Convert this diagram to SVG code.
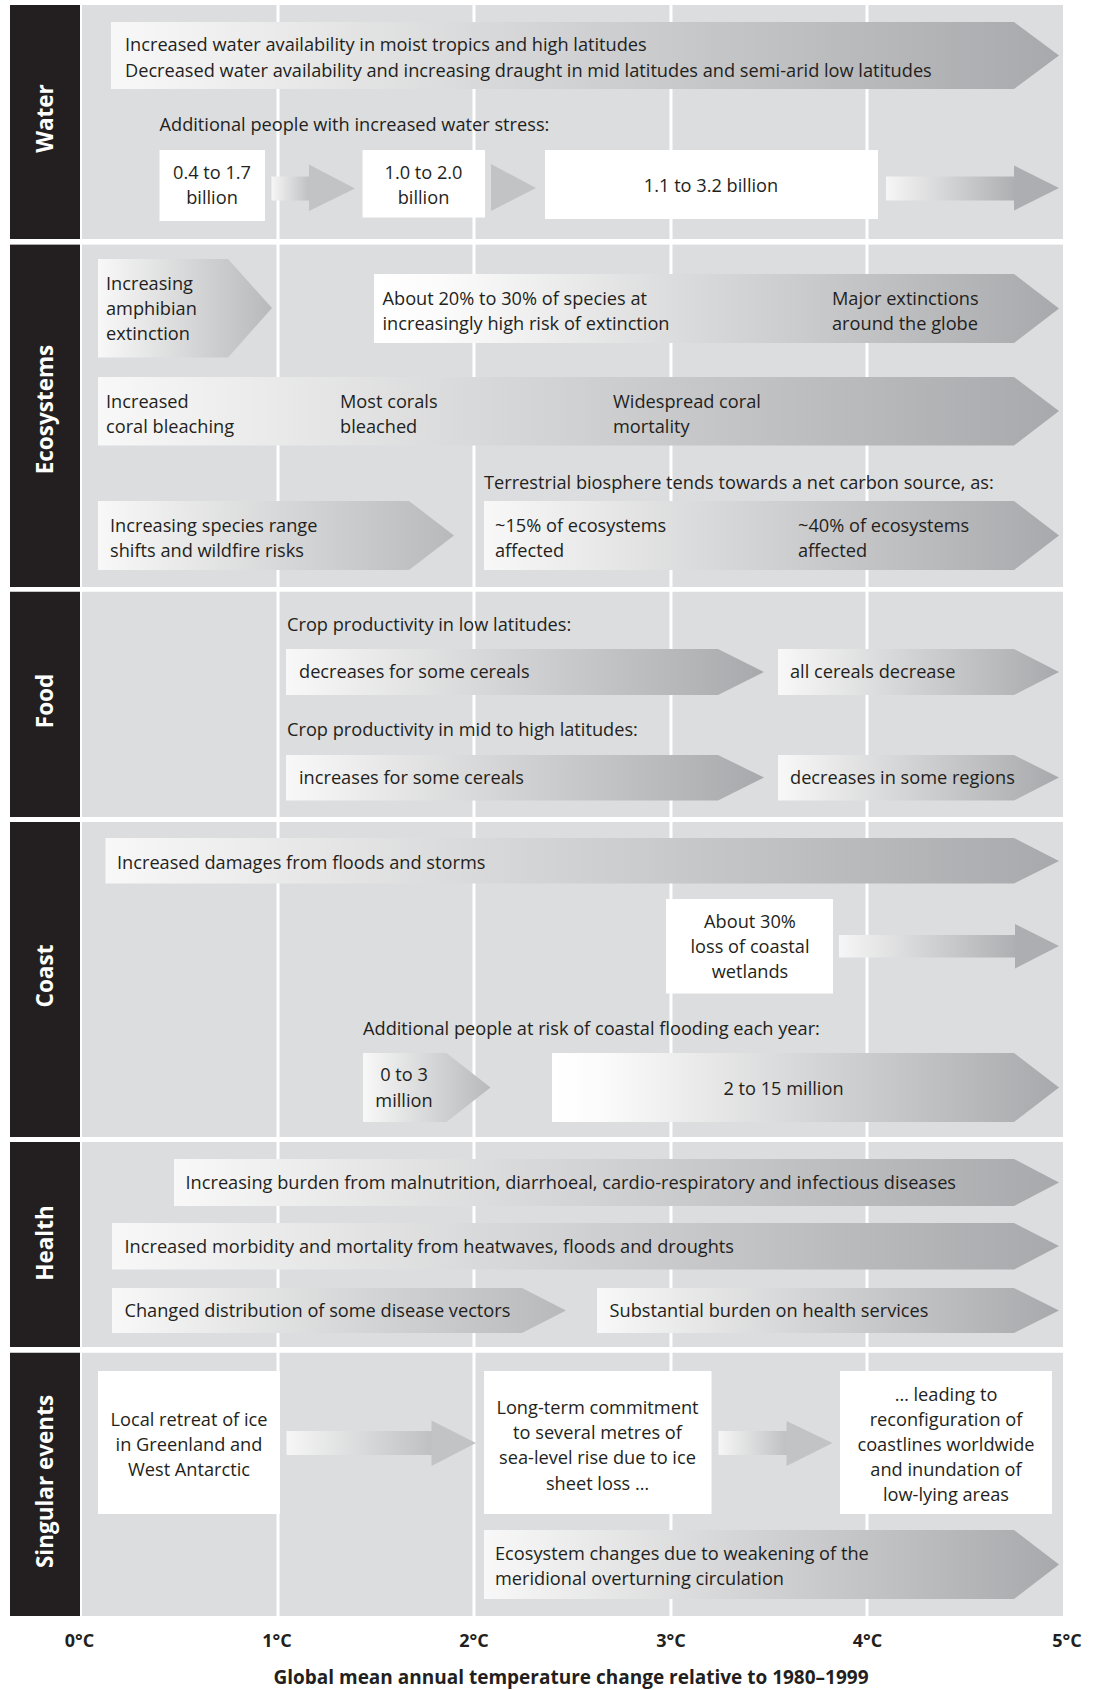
<svg xmlns="http://www.w3.org/2000/svg" width="1099" height="1690" viewBox="0 0 1099 1690">
<defs>
<linearGradient id="gLong" x1="0" y1="0" x2="1" y2="0"><stop offset="0" stop-color="#f8f8f8"/><stop offset="1" stop-color="#a8a9ac"/></linearGradient>
<linearGradient id="gWhite" x1="0" y1="0" x2="1" y2="0"><stop offset="0" stop-color="#ffffff"/><stop offset="0.1" stop-color="#fbfbfb"/><stop offset="1" stop-color="#a8a9ac"/></linearGradient>
<linearGradient id="gShort" x1="0" y1="0" x2="1" y2="0"><stop offset="0" stop-color="#f8f8f8"/><stop offset="1" stop-color="#b8b9bb"/></linearGradient>
<linearGradient id="gBody" x1="0" y1="0" x2="1" y2="0"><stop offset="0" stop-color="#f6f6f6"/><stop offset="1" stop-color="#bfc0c2"/></linearGradient>
<linearGradient id="gBodyDark" x1="0" y1="0" x2="1" y2="0"><stop offset="0" stop-color="#f6f6f6"/><stop offset="1" stop-color="#aeafb2"/></linearGradient>
<style>
.t{font-family:"Open Sans","Liberation Sans",sans-serif;font-size:18.2px;fill:#231f20}
.c{text-anchor:middle}
.side{font-family:"Open Sans","Liberation Sans",sans-serif;font-weight:700;font-size:22.5px;fill:#ffffff;text-anchor:middle}
.ax{font-family:"Open Sans","Liberation Sans",sans-serif;font-weight:700;font-size:18px;fill:#231f20;text-anchor:middle}
.title{font-size:19px}
.panel{fill:#dcdddf}
.bar{fill:#231f20}
.grid{stroke:#ffffff;stroke-width:3}
.box{fill:#ffffff}
.long{fill:url(#gLong)}
.white{fill:url(#gWhite)}
.short{fill:url(#gShort)}
.body{fill:url(#gBody)}
.bodyd{fill:url(#gBodyDark)}
.head{fill:#c2c3c5}
.headd{fill:#adaeb1}
</style>
</defs>
<rect x="0" y="0" width="1099" height="1690" fill="#ffffff"/>

<g id="background">
<rect class="bar" x="10" y="5" width="70" height="234"/>
<rect class="panel" x="82" y="5" width="981" height="234"/>
<rect class="bar" x="10" y="244.5" width="70" height="342.5"/>
<rect class="panel" x="82" y="244.5" width="981" height="342.5"/>
<rect class="bar" x="10" y="591.5" width="70" height="225.5"/>
<rect class="panel" x="82" y="591.5" width="981" height="225.5"/>
<rect class="bar" x="10" y="822" width="70" height="315"/>
<rect class="panel" x="82" y="822" width="981" height="315"/>
<rect class="bar" x="10" y="1142" width="70" height="205"/>
<rect class="panel" x="82" y="1142" width="981" height="205"/>
<rect class="bar" x="10" y="1352.5" width="70" height="263.5"/>
<rect class="panel" x="82" y="1352.5" width="981" height="263.5"/>
<g class="grid">
<line x1="278" y1="5" x2="278" y2="1616"/>
<line x1="474" y1="5" x2="474" y2="1616"/>
<line x1="671" y1="5" x2="671" y2="1616"/>
<line x1="867" y1="5" x2="867" y2="1616"/>
</g>
<line x1="0" y1="241.7" x2="1099" y2="241.7" stroke="#ffffff" stroke-width="5"/>
<line x1="0" y1="589.2" x2="1099" y2="589.2" stroke="#ffffff" stroke-width="4.5"/>
<line x1="0" y1="819.5" x2="1099" y2="819.5" stroke="#ffffff" stroke-width="5"/>
<line x1="0" y1="1139.5" x2="1099" y2="1139.5" stroke="#ffffff" stroke-width="5"/>
<line x1="0" y1="1349.7" x2="1099" y2="1349.7" stroke="#ffffff" stroke-width="5.5"/>
</g>

<g id="sidebar-labels">
<text class="side" transform="translate(53,118.5) rotate(-90)">Water</text>
<text class="side" transform="translate(53,409.5) rotate(-90)">Ecosystems</text>
<text class="side" transform="translate(53,701) rotate(-90)">Food</text>
<text class="side" transform="translate(53,976) rotate(-90)">Coast</text>
<text class="side" transform="translate(53,1243) rotate(-90)">Health</text>
<text class="side" transform="translate(53,1481.5) rotate(-90)">Singular events</text>
</g>

<g id="connectors">
<rect class="body" x="271.5" y="176.5" width="38" height="24"/>
<polygon class="head" points="309,164.5 355,188.5 309,211"/>
<polygon class="head" points="491,164 536,188 491,211"/>
<rect class="bodyd" x="886" y="176.5" width="129" height="24"/>
<polygon class="headd" points="1014,165.5 1059,188 1014,210.5"/>
<rect class="bodyd" x="839" y="935" width="177" height="22.5"/>
<polygon class="headd" points="1015,924 1059,946 1015,968.5"/>
<rect class="body" x="286.5" y="1431" width="146" height="24"/>
<polygon class="head" points="431.5,1420.5 476,1443 431.5,1466"/>
<rect class="body" x="718.5" y="1431" width="69" height="24"/>
<polygon class="head" points="786.5,1421 832.5,1443 786.5,1466"/>
</g>

<g id="water-availability">
<path class="long" d="M111 22 H1014 L1059 55.5 L1014 89 H111 Z"/>
<text class="t" x="125" y="51">Increased water availability in moist tropics and high latitudes</text>
<text class="t" x="125" y="77">Decreased water availability and increasing draught in mid latitudes and semi-arid low latitudes</text>
</g>
<g id="water-stress-label">
<text class="t" x="159.5" y="131">Additional people with increased water stress:</text>
</g>
<g id="water-stress-1">
<rect class="box" x="159.5" y="150" width="105.5" height="71"/>
<text class="t c" x="212" y="179">0.4 to 1.7</text>
<text class="t c" x="212" y="204">billion</text>
</g>
<g id="water-stress-2">
<rect class="box" x="362.5" y="150" width="122.5" height="67.5"/>
<text class="t c" x="423.5" y="179">1.0 to 2.0</text>
<text class="t c" x="423.5" y="204">billion</text>
</g>
<g id="water-stress-3">
<rect class="box" x="545" y="150" width="333" height="69"/>
<text class="t c" x="711" y="192">1.1 to 3.2 billion</text>
</g>

<g id="eco-amphibian">
<path class="short" d="M98 259 H228 L272 308 L228 357.5 H98 Z"/>
<text class="t" x="106" y="289.5">Increasing</text>
<text class="t" x="106" y="314.5">amphibian</text>
<text class="t" x="106" y="339.5">extinction</text>
</g>
<g id="eco-species-risk">
<path class="white" d="M374 274 H1014 L1059 308.5 L1014 343 H374 Z"/>
<text class="t" x="382.5" y="305">About 20% to 30% of species at</text>
<text class="t" x="382.5" y="329.5">increasingly high risk of extinction</text>
<text class="t" x="832" y="305">Major extinctions</text>
<text class="t" x="832" y="329.5">around the globe</text>
</g>
<g id="eco-coral">
<path class="long" d="M98 377 H1014 L1059 411 L1014 445.5 H98 Z"/>
<text class="t" x="106" y="407.5">Increased</text>
<text class="t" x="106" y="432.5">coral bleaching</text>
<text class="t" x="340" y="407.5">Most corals</text>
<text class="t" x="340" y="432.5">bleached</text>
<text class="t" x="613" y="407.5">Widespread coral</text>
<text class="t" x="613" y="432.5">mortality</text>
</g>
<g id="eco-carbon-label">
<text class="t" x="484" y="489">Terrestrial biosphere tends towards a net carbon source, as:</text>
</g>
<g id="eco-range">
<path class="short" d="M98 501 H409 L454 535.5 L409 570 H98 Z"/>
<text class="t" x="110" y="532">Increasing species range</text>
<text class="t" x="110" y="557">shifts and wildfire risks</text>
</g>
<g id="eco-carbon">
<path class="long" d="M484 501 H1014 L1059 535.5 L1014 570 H484 Z"/>
<text class="t" x="495" y="532">~15% of ecosystems</text>
<text class="t" x="495" y="557">affected</text>
<text class="t" x="798" y="532">~40% of ecosystems</text>
<text class="t" x="798" y="557">affected</text>
</g>

<g id="food-low-label">
<text class="t" x="287" y="631">Crop productivity in low latitudes:</text>
</g>
<g id="food-low-1">
<path class="long" d="M286 649 H718 L764 672 L718 695 H286 Z"/>
<text class="t" x="299" y="678">decreases for some cereals</text>
</g>
<g id="food-low-2">
<path class="long" d="M778 649 H1014 L1059 672 L1014 695 H778 Z"/>
<text class="t" x="790" y="678">all cereals decrease</text>
</g>
<g id="food-mid-label">
<text class="t" x="287" y="735.5">Crop productivity in mid to high latitudes:</text>
</g>
<g id="food-mid-1">
<path class="long" d="M286 755 H718 L764 777.5 L718 800.5 H286 Z"/>
<text class="t" x="299" y="784">increases for some cereals</text>
</g>
<g id="food-mid-2">
<path class="long" d="M778 755 H1014 L1059 777.5 L1014 800.5 H778 Z"/>
<text class="t" x="790" y="784">decreases in some regions</text>
</g>

<g id="coast-damages">
<path class="long" d="M105.5 838 H1014 L1059 861 L1014 883.5 H105.5 Z"/>
<text class="t" x="117" y="868.5">Increased damages from floods and storms</text>
</g>
<g id="coast-wetlands">
<rect class="box" x="666" y="899" width="167" height="94.5"/>
<text class="t c" x="750" y="928">About 30%</text>
<text class="t c" x="750" y="953">loss of coastal</text>
<text class="t c" x="750" y="978">wetlands</text>
</g>
<g id="coast-flood-label">
<text class="t" x="363" y="1035">Additional people at risk of coastal flooding each year:</text>
</g>
<g id="coast-flood-1">
<path class="short" d="M363 1053 H446.5 L490.5 1087.5 L446.5 1122 H363 Z"/>
<text class="t c" x="404" y="1081">0 to 3</text>
<text class="t c" x="404" y="1107">million</text>
</g>
<g id="coast-flood-2">
<path class="white" d="M552 1053 H1014 L1059 1087.5 L1014 1122 H552 Z"/>
<text class="t c" x="783.5" y="1094.5">2 to 15 million</text>
</g>

<g id="health-burden">
<path class="long" d="M174 1159 H1014 L1059 1182.5 L1014 1206 H174 Z"/>
<text class="t" x="185.5" y="1188.5">Increasing burden from malnutrition, diarrhoeal, cardio-respiratory and infectious diseases</text>
</g>
<g id="health-morbidity">
<path class="long" d="M112 1223 H1014 L1059 1246 L1014 1269.5 H112 Z"/>
<text class="t" x="124.5" y="1252.5">Increased morbidity and mortality from heatwaves, floods and droughts</text>
</g>
<g id="health-vectors">
<path class="short" d="M112 1288 H522 L566 1310.5 L522 1333 H112 Z"/>
<text class="t" x="124.5" y="1317">Changed distribution of some disease vectors</text>
</g>
<g id="health-services">
<path class="long" d="M597 1288 H1014 L1059 1310.5 L1014 1333 H597 Z"/>
<text class="t" x="609.5" y="1317">Substantial burden on health services</text>
</g>

<g id="singular-ice">
<rect class="box" x="98" y="1371" width="182" height="143"/>
<text class="t c" x="189" y="1426">Local retreat of ice</text>
<text class="t c" x="189" y="1451">in Greenland and</text>
<text class="t c" x="189" y="1476">West Antarctic</text>
</g>
<g id="singular-sealevel">
<rect class="box" x="484" y="1371" width="227.5" height="143"/>
<text class="t c" x="597.5" y="1414">Long-term commitment</text>
<text class="t c" x="597.5" y="1439">to several metres of</text>
<text class="t c" x="597.5" y="1464">sea-level rise due to ice</text>
<text class="t c" x="597.5" y="1489.5">sheet loss …</text>
</g>
<g id="singular-coastlines">
<rect class="box" x="840" y="1371" width="212" height="143"/>
<text class="t c" x="946" y="1401">… leading to</text>
<text class="t c" x="946" y="1426">reconfiguration of</text>
<text class="t c" x="946" y="1451">coastlines worldwide</text>
<text class="t c" x="946" y="1476">and inundation of</text>
<text class="t c" x="946" y="1501">low-lying areas</text>
</g>
<g id="singular-moc">
<path class="long" d="M484 1530 H1014 L1059 1564.5 L1014 1599 H484 Z"/>
<text class="t" x="495" y="1560">Ecosystem changes due to weakening of the</text>
<text class="t" x="495" y="1584.5">meridional overturning circulation</text>
</g>

<g id="axis">
<text class="ax" x="79.5" y="1647">0°C</text>
<text class="ax" x="277" y="1647">1°C</text>
<text class="ax" x="474" y="1647">2°C</text>
<text class="ax" x="671" y="1647">3°C</text>
<text class="ax" x="867.5" y="1647">4°C</text>
<text class="ax" x="1067" y="1647">5°C</text>
<text class="ax title" x="571" y="1684">Global mean annual temperature change relative to 1980–1999</text>
</g>
</svg>
